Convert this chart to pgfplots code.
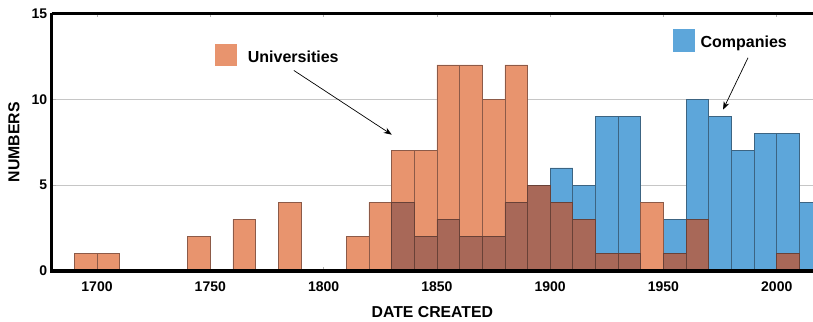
\documentclass[border=0pt]{standalone}
\usepackage{fontspec}
\setmainfont{Liberation Sans}
\usepackage{pgfplots}
\pgfplotsset{compat=1.18}
\usetikzlibrary{calc,arrows.meta}
\definecolor{cblue}{RGB}{93,166,218}
\definecolor{cblueedge}{RGB}{60,100,130}
\definecolor{corange}{RGB}{232,148,110}
\definecolor{corangeedge}{RGB}{140,90,72}
\definecolor{cbrown}{RGB}{168,104,88}
\definecolor{cbrownedge}{RGB}{105,65,55}
\begin{document}
\begin{tikzpicture}
\begin{axis}[
  scale only axis, width=761.3bp, height=257.5bp,
  xmin=1680, xmax=2016, ymin=0, ymax=15,
  axis x line=box, axis y line=left,
  axis line style={-, line width=3.2bp, black},
  xtick={1700,1750,...,2000}, ytick={0,5,10,15},
  tick align=inside, major tick length=4bp,
  tick style={gray!60, line width=0.6bp},
  ymajorgrids, grid style={gray!45, line width=0.6bp},
  ticklabel style={font=\fontsize{14bp}{16bp}\selectfont\bfseries},
  /pgf/number format/assume math mode=true,
  /pgf/number format/1000 sep={},
  xticklabel style={yshift=-7bp},
  yticklabel style={xshift=-1bp},
  xlabel={DATE CREATED}, ylabel={NUMBERS},
  label style={font=\fontsize{15.8bp}{19bp}\selectfont\bfseries},
  x label style={at={(axis description cs:0.5,0)}, anchor=center, yshift=-41bp},
  y label style={at={(axis description cs:-0.0495,0.5)}, anchor=center},
]
\coordinate (ll) at (rel axis cs:0,0);
\coordinate (ur) at (rel axis cs:1,1);
% Companies
\addplot[ybar, bar width=10, bar shift=0pt, fill=cblue, draw=cblueedge, line width=0.7bp] coordinates {
(1835,4) (1845,2) (1855,3) (1865,2) (1875,2) (1885,4) (1895,5) (1905,6) (1915,5)
(1925,9) (1935,9) (1955,3) (1965,10) (1975,9) (1985,7) (1995,8) (2005,8) (2015,4)};
% Universities
\addplot[ybar, bar width=10, bar shift=0pt, fill=corange, draw=corangeedge, line width=0.7bp] coordinates {
(1695,1) (1705,1) (1745,2) (1765,3) (1785,4) (1815,2) (1825,4) (1835,7) (1845,7)
(1855,12) (1865,12) (1875,10) (1885,12) (1895,5) (1905,4) (1915,3) (1925,1) (1935,1)
(1945,4) (1955,1) (1965,3) (2005,1)};
% Both (overlap)
\addplot[ybar, bar width=10, bar shift=0pt, fill=cbrown, draw=cbrownedge, line width=0.7bp] coordinates {
(1835,4) (1845,2) (1855,3) (1865,2) (1875,2) (1885,4) (1895,5) (1905,4) (1915,3)
(1925,1) (1935,1) (1955,1) (1965,3) (2005,1)};
% annotations
\fill[corange] (axis cs:1752,11.93) rectangle (axis cs:1762,13.25);
\node[anchor=base west, inner sep=0pt, font=\fontsize{16bp}{19bp}\selectfont\bfseries] at (axis cs:1766.5,12.12) {Universities};
\draw[-{Stealth[length=8bp,width=6bp]}, line width=0.7bp] (axis cs:1786.9,11.68) -- (axis cs:1830.1,7.94);
\fill[cblue] (axis cs:1954.2,12.74) rectangle (axis cs:1964.1,14.07);
\node[anchor=base west, inner sep=0pt, font=\fontsize{16bp}{19bp}\selectfont\bfseries] at (axis cs:1966.3,13.0) {Companies};
\draw[-{Stealth[length=8bp,width=6bp]}, line width=0.7bp] (axis cs:1987.3,12.42) -- (axis cs:1976.3,9.40);
\end{axis}
\draw[line width=3.2bp] ($(ll)+(-1.6bp,0)$) -- (ll -| ur);
\pgfresetboundingbox
\useasboundingbox ($(ll)+(-51.7bp,-51bp)$) rectangle ($(ur)+(0bp,13.5bp)$);
\end{tikzpicture}
\end{document}
